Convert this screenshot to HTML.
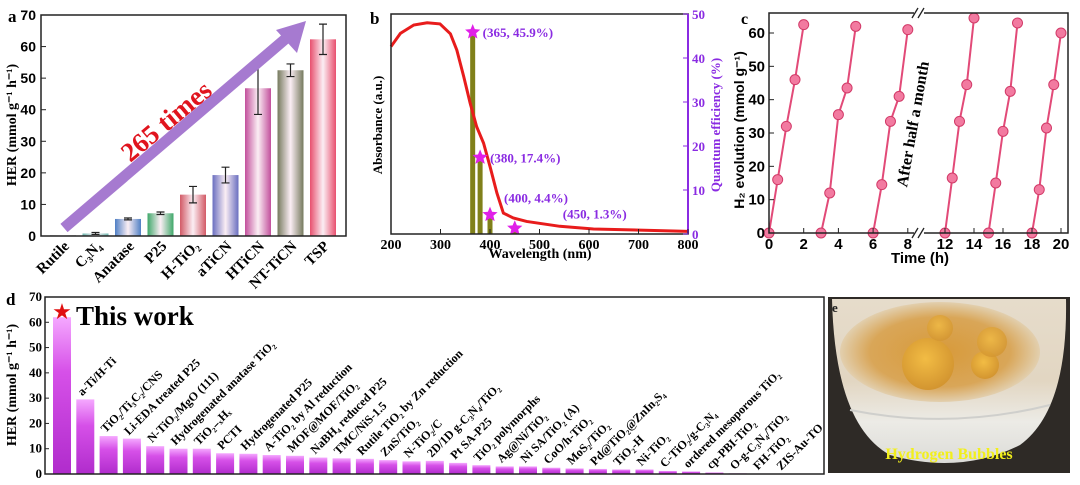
<!DOCTYPE html>
<html><head><meta charset="utf-8"><style>
body{margin:0;background:#fff;}
svg{display:block;font-family:"Liberation Serif",serif;}
.sans{font-family:"Liberation Sans",sans-serif;}
</style></head><body>
<svg id="fig" width="1080" height="485" viewBox="0 0 1080 485" xmlns="http://www.w3.org/2000/svg">
<defs>
<linearGradient id="glass" x1="0" y1="0" x2="0" y2="1">
<stop offset="0" stop-color="#e6dccb"/><stop offset="0.5" stop-color="#e2d6c2"/><stop offset="0.75" stop-color="#ecebe6"/><stop offset="1" stop-color="#dcdcd8"/></linearGradient>
<radialGradient id="liq" cx="0.5" cy="0.5" r="0.5"><stop offset="0" stop-color="#d89a3a"/><stop offset="0.7" stop-color="#d9a658"/><stop offset="1" stop-color="#e2cfae"/></radialGradient>
<radialGradient id="bub" cx="0.45" cy="0.4" r="0.6"><stop offset="0" stop-color="#f2bc44"/><stop offset="1" stop-color="#d39530"/></radialGradient>
</defs>
<g id="pa"></g>
<g id="pb"></g>
<g id="pc"></g>
<g id="pd"></g>
<g id="pe">
<rect x="828" y="297" width="242" height="176" fill="#2e2a26"/>
<path d="M832 299 L1066 299 Q1068 410 1020 445 Q960 475 890 455 Q835 425 832 299Z" fill="url(#glass)"/>
<ellipse cx="940" cy="352" rx="100" ry="50" fill="url(#liq)"/>
<circle cx="928" cy="364" r="26" fill="url(#bub)"/>
<circle cx="985" cy="365" r="14" fill="url(#bub)"/>
<circle cx="992" cy="342" r="15" fill="url(#bub)" opacity="0.8"/>
<circle cx="940" cy="328" r="13" fill="url(#bub)" opacity="0.8"/>
<path d="M850 410 Q950 430 1050 405" stroke="#cfcfcc" stroke-width="2" fill="none"/>
<text x="832" y="312" font-size="13" font-weight="bold" fill="#222">e</text>
<text x="949" y="459" font-size="16" font-weight="bold" fill="#f2ef1c" text-anchor="middle">Hydrogen Bubbles</text>
</g>
</svg>
<script>
// ---------- Panel a data ----------
const aCats=["Rutile","C₃N₄","Anatase","P25","H-TiO₂","aTiCN","HTiCN","NT-TiCN","TSP"];
const aVals=[0.23,0.8,5.4,7.2,13.1,19.3,46.8,52.5,62.3];
const aErr=[0,0.3,0.3,0.4,2.6,2.5,8.3,2.0,4.8];
const aTicks=[0,10,20,30,40,50,60,70];
// ---------- Panel b data ----------
const bWl=[200,219,246,273,299,320,333,347,360,373,387,400,414,427,447,474,541,609,800];
const bAbs=[0.852,0.912,0.95,0.96,0.955,0.91,0.836,0.715,0.594,0.488,0.413,0.307,0.186,0.095,0.073,0.057,0.035,0.023,0.012];
const bQeWl=[365,380,400,450];
const bQe=[45.9,17.4,4.4,1.3];
const bQeLbl=["(365, 45.9%)","(380, 17.4%)","(400, 4.4%)","(450, 1.3%)"];
const bXTicks=[200,300,400,500,600,700,800];
const bYTicks=[0,10,20,30,40,50];
// ---------- Panel c data ----------
const cT=[[0,0.5,1,1.5,2],[3,3.5,4,4.5,5],[6,6.5,7,7.5,8],[12,12.5,13,13.5,14],[15,15.5,16,16.5,17],[18,18.5,19,19.5,20]];
const cH=[[0,16,32,46,62.5],[0,12,35.5,43.5,62],[0,14.5,33.5,41,61],[0,16.5,33.5,44.5,64.5],[0,15,30.5,42.5,63],[0,13,31.5,44.5,60]];
const cXTicks=[0,2,4,6,8,12,14,16,18,20];
const cYTicks=[0,10,20,30,40,50,60];
// ---------- Panel d data ----------
const dCats=["a-Ti/H-Ti","TiO₂/Ti₃C₂/CNS","Li-EDA treated P25","N-TiO₂/MgO (111)","Hydrogenated anatase TiO₂","TiO₂₋ₓHₓ","PCTI","Hydrogenated P25","A-TiO₂ by Al reduction","MOF@MOF/TiO₂","NaBH₄ reduced P25","TMC/NiS-1.5","Rutile TiO₂ by Zn reduction","ZnS/TiO₂","N-TiO₂/C","2D/1D g-C₃N₄/TiO₂","Pt SA-P25","TiO₂ polymorphs","Ag@Ni/TiO₂","Ni SA/TiO₂ (A)","CoO/h-TiO₂","MoS₂/TiO₂","Pd@TiO₂@ZnIn₂S₄","TiO₂-H","Ni-TiO₂","C-TiO₂/g-C₃N₄","ordered mesoporous TiO₂","cp-PBI-TiO₂","O-g-C₃N₄/TiO₂","FH-TiO₂","ZIS-Au-TO"];
const dThis=62;
const dVals=[29.5,15,14,11,10,10,8.2,8,7.5,7.2,6.5,6.2,6,5.5,5,5.2,4.4,3.5,3,3,2.5,2.2,2,1.8,1.8,1.2,1,0.6,0.3,0.2,0.1];
const dTicks=[0,10,20,30,40,50,60,70];

const NS="http://www.w3.org/2000/svg";
function mk(parent,tag,attrs,txt){const e=document.createElementNS(NS,tag);for(const k in attrs)e.setAttribute(k,attrs[k]);if(txt!==undefined)e.textContent=txt;parent.appendChild(e);return e;}

// ===== Panel a =====
(function(){
const g=document.getElementById('pa');
const L=41,R=346,T=15,B=236;
const y=v=>B-(v/70)*(B-T);
const xc=i=>63+i*32.5;
const cols=["#999","#6fb8b0","#4f7fc4","#3fa86a","#d25a66","#6a6fc0","#c2509c","#767a5e","#e8506e"];
const defs=mk(g,'defs',{});
cols.forEach((c,i)=>{const lg=mk(defs,'linearGradient',{id:'ga'+i,x1:0,x2:1,y1:0,y2:0});
mk(lg,'stop',{offset:0,'stop-color':c});mk(lg,'stop',{offset:0.5,'stop-color':'#fbeef4'});mk(lg,'stop',{offset:1,'stop-color':c});});
aVals.forEach((v,i)=>{
 const r=mk(g,'rect',{x:xc(i)-13,y:y(v),width:26,height:B-y(v),fill:'url(#ga'+i+')'});
 
 
 if(aErr[i]>0){const eg=mk(g,'path',{d:`M${xc(i)} ${y(v+aErr[i])}V${y(v-aErr[i])}M${xc(i)-4} ${y(v+aErr[i])}h8M${xc(i)-4} ${y(v-aErr[i])}h8`,stroke:'#222','stroke-width':1.2,fill:'none'});
 
 }
 const t=mk(g,'text',{x:xc(i)+7,y:B+11,'font-size':15,'font-weight':'bold','text-anchor':'end',transform:`rotate(-45 ${xc(i)+7} ${B+11})`},aCats[i]);
 
 
});
mk(g,'line',{x1:64,y1:228,x2:290,y2:35,stroke:'#a67ad0','stroke-width':11});
mk(g,'polygon',{points:'306,21 276,30 297,53',fill:'#a67ad0'});
const tt=mk(g,'text',{x:172,y:128,'font-size':27,'font-weight':'bold',fill:'#e0141e','text-anchor':'middle',transform:'rotate(-40 172 128)'},'265 times');

mk(g,'rect',{x:L,y:T,width:R-L,height:B-T,fill:'none',stroke:'#222','stroke-width':1.5});
aTicks.forEach(v=>{mk(g,'line',{x1:L,x2:L+5,y1:y(v),y2:y(v),stroke:'#222'});
 const t=mk(g,'text',{x:L-5,y:y(v)+5,'font-size':14,'font-weight':'bold','text-anchor':'end',class:'sans'},v);
 });
const yl=mk(g,'text',{x:16,y:125,'font-size':14,'font-weight':'bold','text-anchor':'middle',transform:'rotate(-90 16 125)'},'HER (mmol g⁻¹ h⁻¹)');

const pl=mk(g,'text',{x:8,y:22,'font-size':17,'font-weight':'bold'},'a');

})();

// ===== Panel b =====
(function(){
const g=document.getElementById('pb');
const L=391,R=688,T=14,B=234;
const x=w=>L+(w-200)/600*(R-L);
const ya=a=>B-a*(B-T);
const yq=q=>B-q/50*(B-T);
bQeWl.forEach((w,i)=>{const r=mk(g,'rect',{x:x(w)-2.5,y:yq(bQe[i]),width:5,height:B-yq(bQe[i]),fill:'#80801a'});
 });
const pts=bWl.map((w,i)=>x(w)+','+ya(bAbs[i])).join(' ');
const c=mk(g,'polyline',{points:pts,fill:'none',stroke:'#e81c1c','stroke-width':3});

const star=(cx,cy,r)=>{let p=[];for(let k=0;k<10;k++){const a=-Math.PI/2+k*Math.PI/5,rr=k%2?r*0.45:r;p.push((cx+rr*Math.cos(a)).toFixed(1)+','+(cy+rr*Math.sin(a)).toFixed(1));}return p.join(' ');};
const lp=[[10,5],[10,5],[14,-12],[48,-10]];
bQeWl.forEach((w,i)=>{const s=mk(g,'polygon',{points:star(x(w),yq(bQe[i]),8),fill:'#e020e8'});
 
 const t=mk(g,'text',{x:x(w)+lp[i][0],y:yq(bQe[i])+lp[i][1],'font-size':13,'font-weight':'bold',fill:'#8a2be2'},bQeLbl[i]);
 });
mk(g,'rect',{x:L,y:T,width:R-L,height:B-T,fill:'none',stroke:'#222','stroke-width':1.5});
mk(g,'line',{x1:R,x2:R,y1:T,y2:B,stroke:'#8a2be2','stroke-width':2});
bXTicks.forEach(w=>{mk(g,'line',{x1:x(w),x2:x(w),y1:B,y2:B-5,stroke:'#222'});
 const t=mk(g,'text',{x:x(w),y:B+15,'font-size':14,'font-weight':'bold','text-anchor':'middle'},w);
 });
bYTicks.forEach(q=>{mk(g,'line',{x1:R,x2:R-5,y1:yq(q),y2:yq(q),stroke:'#8a2be2'});
 const t=mk(g,'text',{x:R+4,y:yq(q)+5,'font-size':13,'font-weight':'bold',fill:'#8a2be2'},q);
 });
const xt=mk(g,'text',{x:540,y:258,'font-size':14,'font-weight':'bold','text-anchor':'middle'},'Wavelength (nm)');

const yl=mk(g,'text',{x:382,y:125,'font-size':13,'font-weight':'bold','text-anchor':'middle',transform:'rotate(-90 382 125)'},'Absorbance (a.u.)');

const yr=mk(g,'text',{x:720,y:125,'font-size':13,'font-weight':'bold',fill:'#8a2be2','text-anchor':'middle',transform:'rotate(-90 720 125)'},'Quantum efficiency (%)');

const pl=mk(g,'text',{x:370,y:24,'font-size':17,'font-weight':'bold'},'b');

})();

// ===== Panel c =====
(function(){
const g=document.getElementById('pc');
const L=769,R=1068,T=13,B=233;
const x=t=>t<=8.5?L+t*17.35:945+(t-12)*14.5;
const y=v=>B-v/60*200;
cT.forEach((ts,k)=>{
 const pts=ts.map((t,i)=>x(t)+','+y(cH[k][i])).join(' ');
 const l=mk(g,'polyline',{points:pts,fill:'none',stroke:'#e24a78','stroke-width':2});
 
 ts.forEach((t,i)=>{const c=mk(g,'circle',{cx:x(t),cy:y(cH[k][i]),r:5,fill:'#f27aa0',stroke:'#d23a68','stroke-width':1});
  });
});
mk(g,'rect',{x:L,y:T,width:R-L,height:B-T,fill:'none',stroke:'#222','stroke-width':1.5});
mk(g,'rect',{x:914,y:T-4,width:10,height:8,fill:'#fff'});mk(g,'rect',{x:914,y:B-4,width:10,height:8,fill:'#fff'});
['M912 '+(T+5)+'l6 -10M918 '+(T+5)+'l6 -10','M912 '+(B+5)+'l6 -10M918 '+(B+5)+'l6 -10'].forEach(d=>mk(g,'path',{d:d,stroke:'#222','stroke-width':1.3}));
cXTicks.forEach(t=>{mk(g,'line',{x1:x(t),x2:x(t),y1:B,y2:B-5,stroke:'#222'});
 const tx=mk(g,'text',{x:x(t),y:B+16,'font-size':15,'font-weight':'bold','text-anchor':'middle',class:'sans'},t);
 });
cYTicks.forEach(v=>{mk(g,'line',{x1:L,x2:L+5,y1:y(v),y2:y(v),stroke:'#222'});
 const tx=mk(g,'text',{x:L-4,y:y(v)+5,'font-size':15,'font-weight':'bold','text-anchor':'end',class:'sans'},v);
 });
const xt=mk(g,'text',{x:920,y:263,'font-size':15,'font-weight':'bold','text-anchor':'middle',class:'sans'},'Time (h)');

const yl=mk(g,'text',{x:744,y:130,'font-size':14,'font-weight':'bold','text-anchor':'middle',class:'sans',transform:'rotate(-90 744 130)'},'H₂ evolution (mmol g⁻¹)');

const an=mk(g,'text',{x:918,y:125,'font-size':16,'font-weight':'bold','text-anchor':'middle',transform:'rotate(-80 918 125)'},'After half a month');

const pl=mk(g,'text',{x:741,y:24,'font-size':16,'font-weight':'bold'},'c');

})();

// ===== Panel d =====
(function(){
const g=document.getElementById('pd');
const L=45,R=824,T=297,B=474;
const y=v=>B-v/70*(B-T);
const xc=i=>62+i*23.3;
const defs=mk(g,'defs',{});
const lg=mk(defs,'linearGradient',{id:'gd',x1:0,x2:0,y1:0,y2:1});
mk(lg,'stop',{offset:0,'stop-color':'#f5a8ff'});mk(lg,'stop',{offset:0.35,'stop-color':'#d650e8'});mk(lg,'stop',{offset:1,'stop-color':'#b02ccc'});
const b0=mk(g,'rect',{x:xc(0)-9,y:y(dThis),width:18,height:B-y(dThis),fill:'url(#gd)'});

dVals.forEach((v,i)=>{const r=mk(g,'rect',{x:xc(i+1)-9,y:y(v),width:18,height:B-y(v),fill:'url(#gd)'});
 
 const lx=xc(i+1)-3,ly=y(v)-3;
 const t=mk(g,'text',{x:lx,y:ly,'font-size':12,'font-weight':'bold',transform:`rotate(-45 ${lx} ${ly})`},dCats[i]);
 });
mk(g,'rect',{x:L,y:T,width:R-L,height:B-T,fill:'none',stroke:'#222','stroke-width':1.5});
dTicks.forEach(v=>{mk(g,'line',{x1:L,x2:L+4,y1:y(v),y2:y(v),stroke:'#222'});
 const t=mk(g,'text',{x:L-3,y:y(v)+4,'font-size':13,'font-weight':'bold','text-anchor':'end'},v);
 });
const st=mk(g,'text',{x:62,y:319,'font-size':22,fill:'#e01010','text-anchor':'middle',class:'sans'},'★');

const tw=mk(g,'text',{x:76,y:325,'font-size':27,'font-weight':'bold'},'This work');

const yl=mk(g,'text',{x:16,y:385,'font-size':14,'font-weight':'bold','text-anchor':'middle',transform:'rotate(-90 16 385)'},'HER (mmol g⁻¹ h⁻¹)');

const pl=mk(g,'text',{x:6,y:305,'font-size':17,'font-weight':'bold'},'d');

})();
</script>
</body></html>
